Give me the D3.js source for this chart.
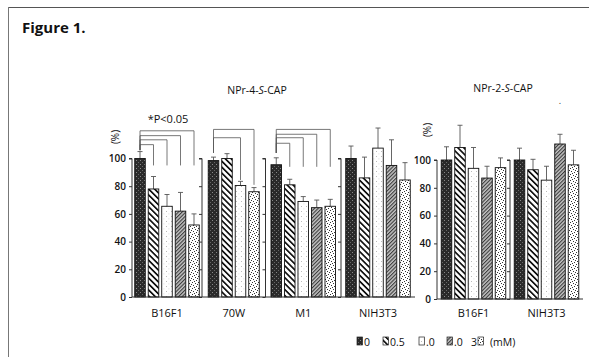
<!DOCTYPE html>
<html>
<head>
<meta charset="utf-8">
<script src="https://cdn.jsdelivr.net/npm/d3@7"></script>
<style>
  body { margin: 0; background: #fff; }
  svg { display: block; font-family: "Open Sans", "Liberation Sans", sans-serif; }
</style>
</head>
<body>
<svg id="fig" width="589" height="357"></svg>
<script>
// concentrations (mM) -> pattern ids
const concs = ["0", "0.5", "1.0", "2.0", "3"];
const legendLabels = ["0", "0.5", ".0", ".0", "3"];

// NPr-4-S-CAP (left)
const leftCells = ["B16F1", "70W", "M1", "NIH3T3"];
const leftBars = [
  [0, 1, 2, 3, 4],
  [0, 1, 2, 4],
  [0, 1, 2, 3, 4],
  [0, 1, 2, 3, 4]
];
const leftMeans = [
  [100, 78, 65.5, 62, 52],
  [98.5, 100, 80.5, 76],
  [95.5, 81, 69, 64.5, 65.5],
  [100, 86, 107.5, 95, 84.5]
];
const leftErrs = [
  [5, 9, 8.5, 13.5, 8],
  [2.5, 3.5, 3, 3],
  [5, 4, 3.5, 5.5, 5],
  [9, 15, 14.5, 18.5, 12.5]
];

// NPr-2-S-CAP (right)
const rightCells = ["B16F1", "NIH3T3"];
const rightBars = [[0, 1, 2, 3, 4], [0, 1, 2, 3, 4]];
const rightMeans = [
  [100, 109, 94, 87, 94.5],
  [100, 93, 85.5, 111.5, 96.5]
];
const rightErrs = [
  [9.5, 16, 15, 8.5, 7],
  [8.5, 7.5, 10, 7, 10.5]
];

// significance brackets (left): panel, target bar index, level, drop end, start end (in %)
const brackets = [
  {p: 0, to: 4, level: 120, end: 95, start: 106},
  {p: 0, to: 3, level: 116.5, end: 95, start: 106},
  {p: 0, to: 2, level: 113.5, end: 95, start: 106},
  {p: 0, to: 1, level: 110, end: 95, start: 106},
  {p: 1, to: 3, level: 121, end: 81, start: 104},
  {p: 1, to: 2, level: 115, end: 84.5, start: 104},
  {p: 2, to: 4, level: 121, end: 94, start: 104},
  {p: 2, to: 3, level: 117.5, end: 94, start: 104},
  {p: 2, to: 2, level: 115, end: 94, start: 104},
  {p: 2, to: 1, level: 111, end: 94, start: 104}
];

const yTicks = [0, 20, 40, 60, 80, 100];

const svg = d3.select("#fig");
const defs = svg.append("defs");

// --- fill patterns ---
function pat(id, w, h, rot) {
  const p = defs.append("pattern").attr("id", id)
    .attr("patternUnits", "userSpaceOnUse")
    .attr("width", w).attr("height", h);
  if (rot) p.attr("patternTransform", `rotate(${rot})`);
  return p;
}
let p = pat("c0", 4, 4);
p.append("rect").attr("width", 4).attr("height", 4).attr("fill", "#2a2a2a");
p.append("rect").attr("x", 0).attr("y", 0).attr("width", 1).attr("height", 1).attr("fill", "#8a8a8a");
p.append("rect").attr("x", 2).attr("y", 2).attr("width", 1).attr("height", 1).attr("fill", "#666");
p = pat("c1", 4.2, 6, -45);
p.append("rect").attr("width", 4.2).attr("height", 6).attr("fill", "#fff");
p.append("rect").attr("width", 1.7).attr("height", 6).attr("fill", "#111");
p = pat("c2", 5, 5);
p.append("rect").attr("width", 5).attr("height", 5).attr("fill", "#fff");
p.append("rect").attr("x", 1).attr("y", 1).attr("width", 1).attr("height", 1).attr("fill", "#bbb");
p.append("rect").attr("x", 3.5).attr("y", 3.5).attr("width", 0.8).attr("height", 0.8).attr("fill", "#ccc");
p = pat("c3", 2.6, 4, 45);
p.append("rect").attr("width", 2.6).attr("height", 4).attr("fill", "#c4c4c4");
p.append("rect").attr("width", 1.1).attr("height", 4).attr("fill", "#3a3a3a");
p = pat("c4", 6, 6);
p.append("rect").attr("width", 6).attr("height", 6).attr("fill", "#fff");
[[0, 0], [3, 1], [1, 3], [4, 4], [5, 2], [2, 5]].forEach(([x, y]) =>
  p.append("rect").attr("x", x).attr("y", y).attr("width", 1).attr("height", 1).attr("fill", "#333"));

// --- frame ---
svg.append("line").attr("x1", 8).attr("x2", 589).attr("y1", 7.5).attr("y2", 7.5)
  .attr("stroke", "#555").attr("stroke-width", 1.2);
svg.append("line").attr("x1", 8.5).attr("x2", 8.5).attr("y1", 7).attr("y2", 357)
  .attr("stroke", "#777").attr("stroke-width", 1);
svg.append("text").attr("x", 22).attr("y", 33).attr("font-size", 15)
  .attr("font-weight", "bold").attr("fill", "#111").text("Figure 1.");

const step = 13.5;

function drawChart(cfg) {
  const y = d3.scaleLinear().domain([0, 100]).range([cfg.y0, cfg.y100]);
  const g = svg.append("g");
  const xs = [];
  cfg.cells.forEach((cell, pi) => {
    const a = cfg.axisX[pi], b = cfg.axisX[pi + 1];
    const ids = cfg.bars[pi];
    const c = (a + b) / 2;
    const x = d3.scaleBand().domain(ids)
      .range([c - ids.length * step / 2, c + ids.length * step / 2])
      .paddingInner(0.22).paddingOuter(0.11);
    xs.push(x);

    // panel axis
    const ax = g.append("g").attr("transform", `translate(${a},0)`)
      .call(d3.axisLeft(y).tickValues(yTicks).tickSize(3)
        .tickFormat(pi === 0 ? d3.format("d") : ""));
    ax.select(".domain").attr("stroke", "#333").attr("d", `M-3,${y(100)}H0V${y(0)}`);
    ax.selectAll(".tick line").attr("stroke", "#333");
    ax.selectAll(".tick text").attr("font-size", 10).attr("font-weight", 600)
      .attr("fill", "#111").attr("font-family", "Open Sans, sans-serif");

    const data = ids.map((id, i) => ({id, v: cfg.means[pi][i], e: cfg.errs[pi][i]}));
    const bg = g.append("g");
    // error bars (upper only)
    bg.selectAll("path.err").data(data).join("path").attr("class", "err")
      .attr("d", d => {
        const cx = x(d.id) + x.bandwidth() / 2, t = y(d.v + d.e);
        return `M${cx},${y(d.v)}V${t}M${cx - 2.5},${t}H${cx + 2.5}`;
      })
      .attr("stroke", "#555").attr("stroke-width", 0.9).attr("fill", "none");
    bg.selectAll("rect").data(data).join("rect")
      .attr("x", d => x(d.id)).attr("width", x.bandwidth())
      .attr("y", d => y(d.v)).attr("height", d => y(0) - y(d.v))
      .attr("fill", d => `url(#c${d.id})`)
      .attr("stroke", "#111").attr("stroke-width", 0.9);

    g.append("text").attr("x", c).attr("y", cfg.labelY).attr("text-anchor", "middle")
      .attr("font-size", 11).attr("fill", "#111").text(cell);
  });
  // baseline
  g.append("line").attr("x1", cfg.axisX[0]).attr("x2", cfg.axisX[cfg.axisX.length - 1])
    .attr("y1", y(0)).attr("y2", y(0)).attr("stroke", "#333").attr("stroke-width", 1);

  // title with italic S
  const t = g.append("text").attr("x", cfg.titleX).attr("y", cfg.titleY)
    .attr("text-anchor", "middle").attr("font-size", 10.5).attr("fill", "#111");
  t.append("tspan").text(cfg.title);
  t.append("tspan").attr("font-style", "italic").text("S");
  t.append("tspan").text("-CAP");

  g.append("text").attr("transform", `translate(${cfg.unitX},${cfg.unitY}) rotate(-90)`)
    .attr("text-anchor", "middle").attr("dy", "0.35em").attr("font-size", 10)
    .attr("fill", "#111").text("(%)");
  return {y, xs};
}

const L = drawChart({
  cells: leftCells, bars: leftBars, means: leftMeans, errs: leftErrs,
  axisX: [132, 202, 265.5, 341, 415], y0: 297, y100: 158.5, labelY: 317,
  title: "NPr-4-", titleX: 257, titleY: 94, unitX: 115, unitY: 137
});
const R = drawChart({
  cells: rightCells, bars: rightBars, means: rightMeans, errs: rightErrs,
  axisX: [437, 510, 583], y0: 299, y100: 160, labelY: 317,
  title: "NPr-2-", titleX: 503, titleY: 92, unitX: 427, unitY: 130
});

// significance brackets
const bl = svg.append("g").attr("stroke", "#555").attr("stroke-width", 0.8).attr("fill", "none");
bl.selectAll("path").data(brackets).join("path")
  .attr("d", d => {
    const x = L.xs[d.p], ids = leftBars[d.p];
    const x0 = x(ids[0]) + x.bandwidth() / 2;
    const x1 = x(ids[d.to]) + x.bandwidth() / 2;
    return `M${x0},${L.y(d.start)}V${L.y(d.level)}H${x1}V${L.y(d.end)}`;
  });
svg.append("text").attr("x", 168).attr("y", 123).attr("text-anchor", "middle")
  .attr("font-size", 11).attr("fill", "#111").text("*P<0.05");

// marker above right NIH3T3 2.0 mM
{
  const x = R.xs[1];
  svg.append("text").attr("x", x(3) + x.bandwidth() / 2).attr("y", R.y(rightMeans[1][3] + 29))
    .attr("text-anchor", "middle").attr("font-size", 9).attr("fill", "#333").text(".");
}

// legend
const legX = [357, 383, 419, 447, 473];
const lg = svg.append("g");
concs.forEach((c, i) => {
  const last = i === concs.length - 1;
  const sx = last ? legX[i] + 5 : legX[i];
  lg.append("rect").attr("x", sx).attr("y", 337).attr("width", 5.5).attr("height", 8)
    .attr("fill", `url(#c${i})`).attr("stroke", "#222").attr("stroke-width", 0.7);
  lg.append("text").attr("x", last ? legX[i] + 4 : sx + 7).attr("y", 345.5)
    .attr("text-anchor", last ? "end" : "start")
    .attr("font-size", 10.5).attr("fill", "#111").text(legendLabels[i]);
});
lg.append("text").attr("x", 490).attr("y", 345.5).attr("font-size", 10.5)
  .attr("fill", "#111").text("(mM)");
</script>
</body>
</html>
